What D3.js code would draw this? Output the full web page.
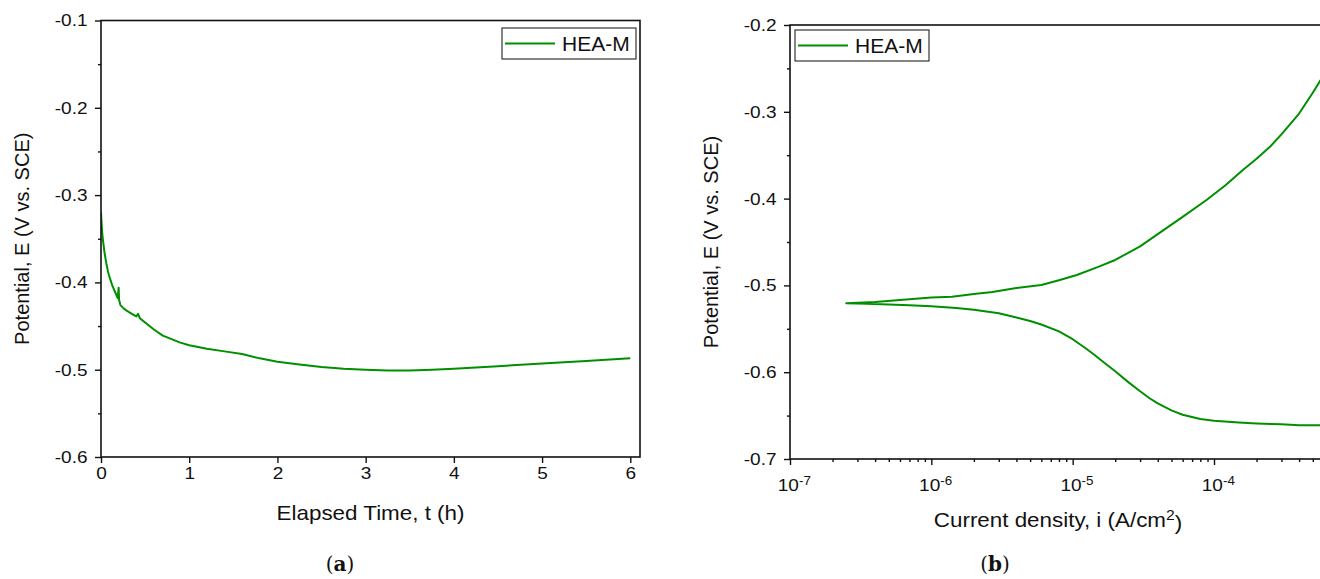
<!DOCTYPE html>
<html>
<head>
<meta charset="utf-8">
<script src="https://cdn.jsdelivr.net/npm/d3@7"></script>
<style>
  body { margin: 0; background: #fff; }
  svg { display: block; font-family: "Liberation Sans", Arial, sans-serif; }
</style>
</head>
<body>
<svg id="chart" width="1320" height="579"></svg>
<script>
// (a) open circuit potential vs time
const ocpTime = [0, 0.01, 0.02, 0.04, 0.06, 0.08, 0.1, 0.13, 0.16, 0.19, 0.2, 0.205, 0.22, 0.26, 0.3, 0.35, 0.4, 0.42, 0.44, 0.5, 0.6, 0.7, 0.8, 0.9, 1.0, 1.2, 1.4, 1.6, 1.8, 2.0, 2.25, 2.5, 2.75, 3.0, 3.25, 3.5, 3.75, 4.0, 4.5, 5.0, 5.5, 6.0];
const ocpPotential = [-0.320, -0.338, -0.350, -0.366, -0.378, -0.388, -0.395, -0.404, -0.411, -0.418, -0.406, -0.420, -0.426, -0.430, -0.433, -0.436, -0.439, -0.436, -0.441, -0.446, -0.454, -0.461, -0.465, -0.469, -0.472, -0.476, -0.479, -0.482, -0.487, -0.491, -0.494, -0.497, -0.499, -0.500, -0.501, -0.501, -0.500, -0.499, -0.496, -0.493, -0.490, -0.487];

// (b) polarization curve, cathodic branch (high i -> low i) then anodic branch
const cathCurrent = [6.1e-4, 4e-4, 3e-4, 2e-4, 1.5e-4, 1e-4, 8e-5, 6e-5, 5e-5, 4e-5, 3.5e-5, 3e-5, 2.5e-5, 2e-5, 1.7e-5, 1.4e-5, 1.2e-5, 1e-5, 8e-6, 6e-6, 5e-6, 4e-6, 3e-6, 2e-6, 1.5e-6, 1e-6, 7e-7, 5e-7, 3.5e-7, 2.5e-7];
const cathPotential = [-0.661, -0.661, -0.660, -0.659, -0.658, -0.656, -0.654, -0.649, -0.644, -0.636, -0.630, -0.622, -0.612, -0.599, -0.590, -0.579, -0.571, -0.562, -0.553, -0.545, -0.541, -0.537, -0.532, -0.528, -0.526, -0.524, -0.523, -0.522, -0.521, -0.5205];
const anodCurrent = [2.5e-7, 4e-7, 7e-7, 1e-6, 1.4e-6, 2e-6, 2.7e-6, 4e-6, 6e-6, 8e-6, 1.07e-5, 1.5e-5, 2e-5, 3e-5, 4e-5, 6e-5, 8.85e-5, 1.2e-4, 1.6e-4, 2e-4, 2.5e-4, 3e-4, 4e-4, 5e-4, 5.6e-4, 6.1e-4];
const anodPotential = [-0.5205, -0.519, -0.516, -0.514, -0.513, -0.510, -0.5076, -0.503, -0.4995, -0.494, -0.488, -0.479, -0.4707, -0.455, -0.441, -0.421, -0.4016, -0.385, -0.367, -0.354, -0.340, -0.326, -0.302, -0.278, -0.265, -0.256];

const timeTicks = [0, 1, 2, 3, 4, 5, 6];
const ocpTicks = [-0.6, -0.5, -0.4, -0.3, -0.2, -0.1];
const ocpMinor = [-0.55, -0.45, -0.35, -0.25, -0.15];
const polTicks = [-0.7, -0.6, -0.5, -0.4, -0.3, -0.2];
const polMinor = [-0.65, -0.55, -0.45, -0.35, -0.25];
const decadeTicks = [-7, -6, -5, -4];

const green = "#008f00";
const stretch = 1.12;   // the source figure is a bit wider than tall
const svg = d3.select("#chart");

function frame(g, left, right, top, bottom) {
    g.append("rect")
        .attr("x", left).attr("y", top)
        .attr("width", right - left).attr("height", bottom - top)
        .attr("fill", "none").attr("stroke", "#111").attr("stroke-width", 1.6);
}

function styleAxis(sel) {
    sel.select(".domain").remove();
    sel.selectAll(".tick line").attr("stroke", "#111").attr("stroke-width", 1.4);
    sel.selectAll(".tick text").attr("fill", "#111").style("font-size", "17px")
        .attr("transform", `scale(${stretch},1)`);
}

// horizontal text, stretched around its anchor point
function label(g, x, y, size) {
    return g.append("g").attr("transform", `translate(${x},${y}) scale(${stretch},1)`)
        .append("text").attr("text-anchor", "middle")
        .style("font-size", size + "px").attr("fill", "#111");
}

function legend(g, bx, by) {
    g.append("rect").attr("x", bx).attr("y", by).attr("width", 134).attr("height", 31)
        .attr("fill", "#fff").attr("stroke", "#222").attr("stroke-width", 1.1);
    g.append("line").attr("x1", bx + 3).attr("x2", bx + 53)
        .attr("y1", by + 15.5).attr("y2", by + 15.5)
        .attr("stroke", green).attr("stroke-width", 2);
    g.append("text").attr("x", bx + 60).attr("y", by + 23)
        .style("font-size", "21px").attr("fill", "#111").text("HEA-M");
}

function panelTag(g, x, letter) {
    const lab = g.append("text").attr("x", x).attr("y", 571).attr("text-anchor", "middle")
        .style("font-family", "'DejaVu Serif', 'Liberation Serif', serif").style("font-size", "20px").attr("fill", "#111");
    lab.append("tspan").text("(");
    lab.append("tspan").attr("font-weight", "bold").text(letter);
    lab.append("tspan").text(")");
}

// ---------- panel (a) ----------
{
    const left = 101, right = 640, top = 20.5, bottom = 457;
    const x = d3.scaleLinear().domain([0, 6.11]).range([left, right]);
    const y = d3.scaleLinear().domain([-0.6, -0.1]).range([bottom, top]);
    const g = svg.append("g");

    g.append("clipPath").attr("id", "clipA").append("rect")
        .attr("x", left).attr("y", top).attr("width", right - left).attr("height", bottom - top);

    g.append("path")
        .datum(ocpTime.map((t, i) => [t, ocpPotential[i]]))
        .attr("clip-path", "url(#clipA)")
        .attr("fill", "none").attr("stroke", green).attr("stroke-width", 2)
        .attr("stroke-linejoin", "round")
        .attr("d", d3.line().x(d => x(d[0])).y(d => y(d[1])));

    g.append("g").attr("transform", `translate(0,${bottom})`)
        .call(d3.axisBottom(x).tickValues(timeTicks).tickSize(6).tickPadding(4).tickFormat(d3.format("d")))
        .call(styleAxis);
    g.append("g").attr("transform", `translate(${left},0)`)
        .call(d3.axisLeft(y).tickValues(ocpTicks).tickSize(6).tickPadding(6).tickFormat(d => d.toFixed(1)))
        .call(styleAxis);
    g.append("g").attr("transform", `translate(${left},0)`)
        .call(d3.axisLeft(y).tickValues(ocpMinor).tickSize(3).tickFormat(""))
        .call(styleAxis);

    frame(g, left, right, top, bottom);
    legend(g, 502, 28);

    label(g, (left + right) / 2, 520, 20).text("Elapsed Time, t (h)");
    g.append("text").attr("transform", `translate(29,${(top + bottom) / 2}) rotate(-90)`)
        .attr("text-anchor", "middle").style("font-size", "20px").attr("fill", "#111")
        .text("Potential, E (V vs. SCE)");
    panelTag(g, 340, "a");
}

// ---------- panel (b) ----------
{
    const left = 790, right = 1325, top = 25, bottom = 459;
    const x = d3.scaleLog().domain([1e-7, 6.1e-4]).range([left, right]);
    const y = d3.scaleLinear().domain([-0.7, -0.2]).range([bottom, top]);
    const g = svg.append("g");

    g.append("clipPath").attr("id", "clipB").append("rect")
        .attr("x", left).attr("y", top).attr("width", right - left).attr("height", bottom - top);

    const scan = cathCurrent.map((c, i) => [c, cathPotential[i]])
        .concat(anodCurrent.map((c, i) => [c, anodPotential[i]]));
    g.append("path")
        .datum(scan)
        .attr("clip-path", "url(#clipB)")
        .attr("fill", "none").attr("stroke", green).attr("stroke-width", 2)
        .attr("stroke-linejoin", "round")
        .attr("d", d3.line().x(d => x(d[0])).y(d => y(d[1])));

    // decade ticks with superscript labels
    const decades = decadeTicks.map(p => Math.pow(10, p));
    const xAxis = g.append("g").attr("transform", `translate(0,${bottom})`)
        .call(d3.axisBottom(x).tickValues(decades).tickSize(6).tickPadding(6).tickFormat(""))
        .call(styleAxis);
    xAxis.selectAll(".tick text").each(function(d) {
        const t = d3.select(this).text(null);
        t.append("tspan").text("10");
        t.append("tspan").attr("dy", "-0.5em").style("font-size", "12px")
            .text(Math.round(Math.log10(d)));
    });
    xAxis.selectAll(".tick text").attr("dy", "1.15em").attr("dx", "0.2em");

    // minor log ticks
    const minor = [];
    decadeTicks.forEach(p => {
        for (let k = 2; k <= 9; k++) {
            const v = k * Math.pow(10, p);
            if (v <= 6.1e-4) minor.push(v);
        }
    });
    g.append("g").attr("transform", `translate(0,${bottom})`)
        .call(d3.axisBottom(x).tickValues(minor).tickSize(3).tickFormat(""))
        .call(styleAxis);

    g.append("g").attr("transform", `translate(${left},0)`)
        .call(d3.axisLeft(y).tickValues(polTicks).tickSize(6).tickPadding(6).tickFormat(d => d.toFixed(1)))
        .call(styleAxis);
    g.append("g").attr("transform", `translate(${left},0)`)
        .call(d3.axisLeft(y).tickValues(polMinor).tickSize(3).tickFormat(""))
        .call(styleAxis);

    frame(g, left, right, top, bottom);
    legend(g, 795, 30);

    const xt = label(g, 1058, 527, 20);
    xt.append("tspan").text("Current density, i (A/cm");
    xt.append("tspan").attr("dy", "-0.5em").style("font-size", "14px").text("2");
    xt.append("tspan").attr("dy", "0.5em").text(")");

    g.append("text").attr("transform", `translate(718,${(top + bottom) / 2}) rotate(-90)`)
        .attr("text-anchor", "middle").style("font-size", "20px").attr("fill", "#111")
        .text("Potential, E (V vs. SCE)");
    panelTag(g, 995, "b");
}
</script>
</body>
</html>
